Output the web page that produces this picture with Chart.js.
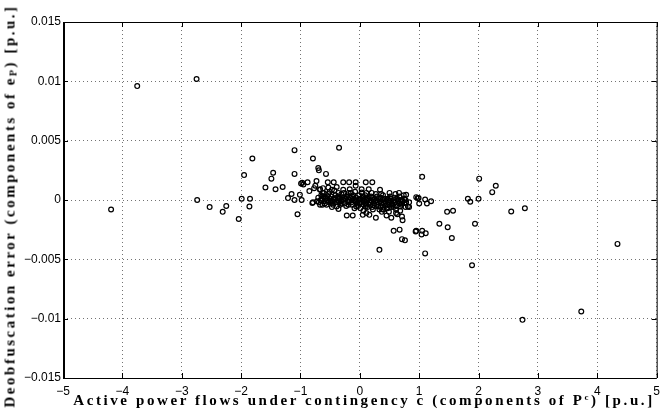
<!DOCTYPE html>
<html><head><meta charset="utf-8">
<script src="https://cdn.jsdelivr.net/npm/chart.js@4"></script>
<style>
html,body{margin:0;padding:0;background:#fff;overflow:hidden;}
#wrap{position:relative;width:666px;height:415px;}
canvas{position:absolute;left:0;top:0;}
.ttl{position:absolute;font-family:"Liberation Serif","DejaVu Serif",serif;font-weight:bold;font-size:15px;white-space:nowrap;color:#000;line-height:15px;}
#xt{left:364px;top:393px;transform:translateX(-50%);}
#yt{left:10px;top:206px;transform:translate(-50%,-50%) rotate(-90deg);}
.ttl sub{font-size:10px;vertical-align:-2px;line-height:0;}
.ttl sup{font-size:9px;vertical-align:5px;line-height:0;}
</style></head><body>
<div id="wrap"><canvas id="c" width="666" height="415"></canvas>
<div id="xt" class="ttl">Active power flows under contingency c (components of P<sup>c</sup>) [p.u.]</div>
<div id="yt" class="ttl">Deobfuscation error (components of e<sub>P</sub>) [p.u.]</div>
</div>
<script>
// ---- data ----
const xTicks = [-5,-4,-3,-2,-1,0,1,2,3,4,5];
const xTickLabels = ['\u22125','\u22124','\u22123','\u22122','\u22121','0','1','2','3','4','5'];
const yTicks = [-0.015,-0.01,-0.005,0,0.005,0.01,0.015];
const yTickLabels = ['\u22120.015','\u22120.01','\u22120.005','0','0.005','0.01','0.015'];

const xVals = [
 -4.19,-3.75,-2.75,-2.74,-2.53,-2.25,-2.31,-2.04,-1.99,-1.85,-1.86,-1.81,-1.95,-1.59,-1.46,-1.49,-1.42,-1.30,-1.21,-1.15,
 -1.10,-1.10,-1.10,-0.99,-0.97,-1.01,-0.98,-1.05,-0.88,-0.85,-0.79,-0.35,-0.70,-0.69,-0.57,-0.73,-0.75,-0.54,-0.44,-0.28,
 -0.18,-0.07,0.10,0.21,-0.07,-0.95,-0.67,-0.63,-0.80,-0.63,
 -0.36,-0.22,-0.12,0.06,0.16,0.27,0.45,0.53,0.63,0.71,0.72,0.57,0.67,0.71,0.76,0.33,0.95,0.11,0.05,0.40,
 0.61,0.68,0.83,0.10,
 0.34,0.78,0.95,1.05,0.975,0.99,1.10,1.20,1.00,1.13,1.82,1.86,2.00,2.01,2.29,2.23,1.47,1.57,2.55,2.78,
 1.34,1.48,1.94,0.94,1.05,1.04,1.11,1.55,1.10,1.89,4.34,3.73,2.74,
 -0.77,-0.67,-0.62,-0.53,-0.47,-0.39,-0.36,-0.28,-0.19,-0.08,0.03,0.20,0.36,0.50,0.60,0.66,
 -0.79,-0.72,-0.67,-0.58,-0.56,-0.47,-0.39,-0.19,-0.06,0.00,0.08,0.17,0.22,0.31,0.39,0.47,0.55,0.61,0.68,0.75,0.81,0.64,
 -0.70,-0.66,-0.62,-0.60,-0.57,-0.55,-0.52,-0.50,-0.48,-0.46,-0.44,-0.42,-0.40,-0.38,-0.36,-0.34,-0.32,-0.30,-0.28,-0.26,
 -0.24,-0.22,-0.20,-0.18,-0.16,-0.14,-0.12,-0.10,-0.08,-0.06,-0.04,-0.02,0.00,0.02,0.04,0.06,0.08,0.10,0.12,0.14,
 0.16,0.18,0.20,0.22,0.24,0.26,0.28,0.30,0.32,0.34,0.36,0.38,0.40,0.42,0.44,0.46,0.48,0.50,0.52,0.54,
 0.56,0.58,0.60,0.63,0.66,0.69,0.72,0.75,0.78,
 -0.65,-0.53,-0.41,-0.31,-0.21,-0.11,-0.01,0.09,0.19,0.29,-0.45,-0.33,-0.23,-0.13,-0.03,0.07,0.13,0.25,0.35,0.43,
 0.53,0.62,0.70,0.77,
 -0.69,-0.64,-0.59,-0.54,-0.49,-0.43,-0.37,-0.31,-0.25,-0.19,-0.13,-0.07,-0.01,0.05,0.11,0.17,0.23,0.29,0.35,0.41,
 0.47,0.53,0.59,0.65,0.71,0.77,0.83,
 -0.61,-0.51,-0.47,-0.35,-0.27,-0.15,-0.09,0.01,0.11,0.21,0.27,0.33,0.39,0.45,0.51,0.57,0.67,0.74,-0.43,-0.17,
 0.03,0.15,0.37,0.49
];
const yVals = [
 -0.0008,0.0096,0.0102,0.0000,-0.0006,-0.0005,-0.0010,-0.0016,0.0001,0.0001,-0.00055,0.0035,0.0021,0.00105,0.0023,0.0018,0.0009,0.0011,0.00016,0.0005,
 0.0000,0.0042,0.0022,0.0014,0.00145,0.00044,0.0000,-0.0012,0.0015,0.00075,0.0035,0.0044,0.0027,0.0025,0.0022,0.0016,0.0012,0.0015,0.0015,0.0015,
 0.0015,0.0015,0.0015,0.0015,0.0012,0.0013,0.0009,0.0006,-0.00026,-0.0004,
 -0.00075,-0.0013,-0.0013,-0.0009,-0.00125,-0.0015,-0.0013,-0.0015,-0.0012,-0.0014,-0.0017,-0.0026,-0.0025,-0.0033,-0.0034,-0.0042,-0.0026,-0.0011,-0.00125,-0.0008,
 -0.0011,-0.0009,-0.0006,-0.00055,
 0.00086,0.00044,0.00024,0.00195,0.00016,0.00016,0.00004,-0.0001,-0.0003,-0.0003,0.0001,-0.00015,0.0001,0.0018,0.0012,0.00066,-0.0010,-0.0009,-0.00097,-0.0007,
 -0.0020,-0.0023,-0.0020,-0.00265,-0.0026,-0.0029,-0.0028,-0.0032,-0.0045,-0.0055,-0.0037,-0.0094,-0.0101,
 0.0010,0.00086,0.0010,0.00105,0.00086,0.0011,0.0006,0.00086,0.0006,0.0007,0.00063,0.0006,0.0005,0.0006,0.0005,0.0006,
 -0.0002,-0.0001,-0.0004,0.0001,-0.0004,-0.00026,-0.00055,-0.0004,-0.00055,-0.00026,0.0001,-0.0004,-0.0008,-0.00055,-0.0008,-0.0007,-0.0004,-0.0008,-0.00055,-0.00026,-0.00055,0.0000,
 0.0002,0.0000,0.0003,-0.0001,0.0002,0.0000,-0.0002,0.0001,0.0003,-0.0001,0.0001,0.0002,-0.0002,0.0000,0.0003,0.0001,-0.0001,0.0002,0.0000,-0.0003,
 0.0001,0.0003,-0.0001,0.0000,0.0002,-0.0002,0.0001,0.0000,-0.0001,0.0002,-0.0003,0.0000,0.0001,-0.0002,0.0000,0.0002,-0.0001,-0.0003,0.0000,0.0001,
 -0.0002,0.0000,-0.0001,0.0002,-0.0003,-0.0001,0.0000,-0.0002,0.0001,-0.0001,-0.0003,0.0000,-0.0002,0.0001,-0.0001,-0.0004,0.0000,-0.0002,0.0001,-0.0003,
 -0.0001,0.0000,-0.0002,0.0001,-0.0003,0.0000,-0.0001,0.0001,-0.0002,
 0.0004,0.0005,0.0004,0.0005,0.0004,0.0004,0.0004,0.0004,0.0003,0.0003,-0.0004,-0.0004,-0.0005,-0.0004,-0.0005,-0.0004,-0.0006,-0.0005,-0.0006,-0.0005,
 -0.0006,-0.0005,-0.0004,-0.0006,
 -0.0002,0.0001,-0.0003,0.0003,-0.0001,0.0000,0.0002,-0.0003,0.0002,-0.0002,0.0003,0.0000,-0.0002,0.0003,-0.0004,0.0002,0.0000,-0.0004,0.0002,-0.0003,
 0.0001,-0.0004,0.0002,-0.0001,-0.0003,0.0000,-0.0002,
 0.0006,0.0007,-0.0006,-0.0002,0.0006,0.0006,-0.0007,-0.0007,0.0006,-0.0006,0.0005,-0.0008,0.0004,-0.0007,0.0003,-0.0006,0.0003,0.0004,0.0008,0.0009,
 0.0009,0.0009,-0.0010,-0.0010
];

const points = xVals.map((x,i)=>({x:x,y:yVals[i]}));

// fit title letter spacing to the reference text lengths
function fitSpacing(el, target){
  el.style.letterSpacing='0px';
  const n = el.textContent.length;
  const w = el.offsetWidth;
  el.style.letterSpacing = ((target - w)/n) + 'px';
}
fitSpacing(document.getElementById('xt'), 582);
fitSpacing(document.getElementById('yt'), 403);

const boxPlugin = {
  id:'box',
  afterDraw(chart){
    const {ctx, chartArea:a, scales:{x,y}} = chart;
    ctx.save();
    ctx.strokeStyle='#000';
    ctx.lineWidth=1;
    ctx.beginPath();
    xTicks.forEach(v=>{
      const px=Math.round(x.getPixelForValue(v))+0.5;
      ctx.moveTo(px,a.bottom); ctx.lineTo(px,a.bottom-5);
      ctx.moveTo(px,a.top); ctx.lineTo(px,a.top+5);
    });
    yTicks.forEach(v=>{
      const py=Math.round(y.getPixelForValue(v))+0.5;
      ctx.moveTo(a.left,py); ctx.lineTo(a.left+5,py);
      ctx.moveTo(a.right,py); ctx.lineTo(a.right-5,py);
    });
    ctx.stroke();
    ctx.beginPath();
    ctx.moveTo(a.left, a.top+0.5); ctx.lineTo(a.right, a.top+0.5);
    ctx.moveTo(a.left, a.bottom+0.5); ctx.lineTo(a.right, a.bottom+0.5);
    ctx.moveTo(a.right+0.5, a.top); ctx.lineTo(a.right+0.5, a.bottom);
    ctx.stroke();
    ctx.lineWidth=2;
    ctx.beginPath();
    ctx.moveTo(a.left+1, a.top); ctx.lineTo(a.left+1, a.bottom+1);
    ctx.stroke();
    ctx.restore();
  }
};

new Chart(document.getElementById('c'), {
  type:'scatter',
  data:{datasets:[{
    data:points,
    pointStyle:'circle',
    pointRadius:2.4,
    pointHoverRadius:2.4,
    borderWidth:1.2,
    borderColor:'#000',
    backgroundColor:'rgba(0,0,0,0)'
  }]},
  options:{
    responsive:false,
    animation:false,
    events:[],
    layout:{padding:{left:0,top:22,right:4,bottom:0}},
    plugins:{legend:{display:false},tooltip:{enabled:false}},
    scales:{
      x:{
        type:'linear', min:-5, max:5,
        afterBuildTicks(s){ s.ticks = xTicks.map(v=>({value:v})); },
        afterFit(s){ s.height = 37; },
        ticks:{
          callback:(v,i)=>xTickLabels[i],
          font:{family:'"Liberation Sans", Arial, sans-serif', size:12},
          color:'#000', padding:6, maxRotation:0, autoSkip:false
        },
        grid:{color:'rgba(0,0,0,0.55)', lineWidth:1, drawTicks:false},
        border:{display:false, dash:[1,3]}
      },
      y:{
        type:'linear', min:-0.015, max:0.015,
        afterBuildTicks(s){ s.ticks = yTicks.map(v=>({value:v})); },
        afterFit(s){ s.width = 63; },
        ticks:{
          callback:(v,i)=>yTickLabels[i],
          font:{family:'"Liberation Sans", Arial, sans-serif', size:12},
          color:'#000', padding:2, autoSkip:false
        },
        grid:{color:'rgba(0,0,0,0.55)', lineWidth:1, drawTicks:false},
        border:{display:false, dash:[1,3]}
      }
    }
  },
  plugins:[boxPlugin]
});
</script>
</body></html>
